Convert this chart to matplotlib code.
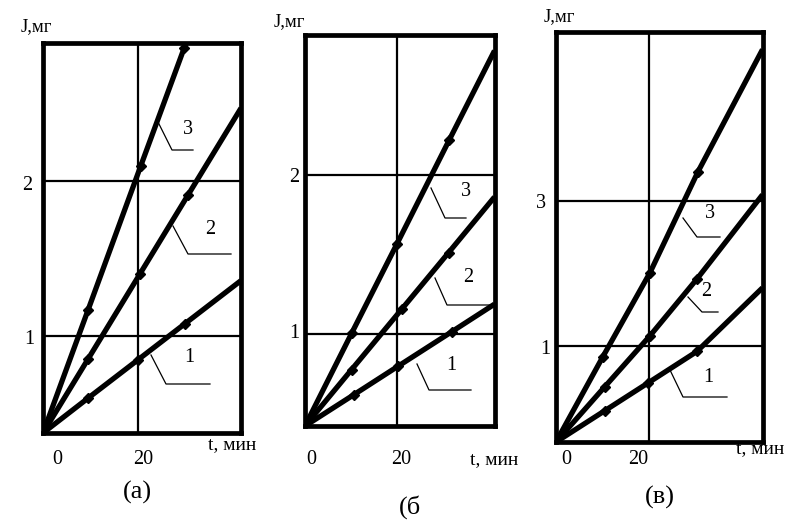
import matplotlib
matplotlib.use("Agg")
import matplotlib.pyplot as plt
from matplotlib import transforms

W, H = 792, 528
plt.rcParams['font.family'] = ['Liberation Serif', 'DejaVu Serif']

# ---------------- data ----------------
# panel (а)
a_xlim = (0, 41.7)
a_ylim = (0.377, 2.887)
a_t3 = [0, 9.47, 20.6, 29.7, 30.1]
a_J3 = [0.377, 1.167, 2.097, 2.852, 2.887]
a_t2 = [0, 9.47, 20.36, 30.53, 41.7]
a_J2 = [0.377, 0.852, 1.398, 1.908, 2.468]
a_t1 = [0, 9.47, 20.0, 29.83, 41.7]
a_J1 = [0.377, 0.601, 0.848, 1.079, 1.358]
a_yticks = [1, 2]
a_yticklabels = ["1", "2"]

# panel (б)
b_xlim = (0, 41.0)
b_ylim = (0.421, 2.885)
b_t3 = [0, 10.1, 19.9, 31.2, 41.0]
b_J3 = [0.421, 1.006, 1.569, 2.223, 2.786]
b_t2 = [0, 10.1, 20.95, 31.05, 41.0]
b_J2 = [0.421, 0.777, 1.158, 1.513, 1.864]
b_t1 = [0, 10.5, 20.2, 31.8, 41.0]
b_J1 = [0.421, 0.617, 0.799, 1.016, 1.189]
b_yticks = [1, 2]
b_yticklabels = ["1", "2"]

# panel (в)
c_xlim = (0, 44.2)
c_ylim = (-0.313, 5.316)
c_t3 = [0, 10.05, 20.1, 30.4, 44.2]
c_J3 = [-0.313, 0.860, 2.010, 3.399, 5.076]
c_t2 = [0, 10.4, 20.1, 30.2, 44.2]
c_J2 = [-0.313, 0.443, 1.144, 1.928, 3.082]
c_t1 = [0, 10.5, 19.7, 30.16, 44.2]
c_J1 = [-0.313, 0.119, 0.498, 0.930, 1.804]
c_yticks = [1, 3]
c_yticklabels = ["1", "3"]

xticks = [0, 20]
xticklabels = ["0", "20"]
curve_labels = ["1", "2", "3"]
panel_labels = ["(а)", "(б", "(в)"]
x_title = "t, мин"
y_title = "J,мг"

# ---------------- layout (pixels, from top-left) ----------------
fig = plt.figure(figsize=(W / 100, H / 100), dpi=100)
PX = transforms.Affine2D().scale(1 / W, -1 / H).translate(0, 1) + fig.transFigure

boxes = [(43, 241, 43, 433), (305, 494.5, 35, 426), (556, 762.5, 32, 442)]

panels = [
    dict(xlim=a_xlim, ylim=a_ylim, series=[(a_t1, a_J1), (a_t2, a_J2), (a_t3, a_J3)],
         yticks=a_yticks, yticklabels=a_yticklabels),
    dict(xlim=b_xlim, ylim=b_ylim, series=[(b_t1, b_J1), (b_t2, b_J2), (b_t3, b_J3)],
         yticks=b_yticks, yticklabels=b_yticklabels),
    dict(xlim=c_xlim, ylim=c_ylim, series=[(c_t1, c_J1), (c_t2, c_J2), (c_t3, c_J3)],
         yticks=c_yticks, yticklabels=c_yticklabels),
]

# text positions (pixels)
xtick_pos = [[(57, 459), (143, 459)], [(311, 460), (401, 460)], [(566, 460), (638, 460)]]
ytick_pos = [[(29, 339), (27, 185)], [(294, 334), (294, 177)], [(545, 349), (541, 204)]]
xtitle_pos = [(232, 445), (494, 460), (760, 449)]
ytitle_pos = [(36, 27), (289, 22), (559, 17)]
panel_pos = [(137, 492), (410, 507), (660, 497)]

# leader lines: (start, knee, end) and label position, order: 1, 2, 3
leaders = [
    [((151, 355), (166, 384), (210, 384)), ((173, 226), (188, 254), (231, 254)),
     ((157, 120), (172, 150), (193, 150))],
    [((417, 364), (429, 390), (471, 390)), ((435, 278), (447, 305), (493, 305)),
     ((431, 188), (445, 218), (466, 218))],
    [((670, 370), (683, 397), (727, 397)), ((688, 297), (702, 312), (718, 312)),
     ((683, 218), (697, 237), (720, 237))],
]
leader_text = [
    [(189, 358), (210, 229), (188, 129)],
    [(451, 365), (468, 277), (466, 191)],
    [(708, 377), (706, 292), (710, 213)],
]

for i, (p, (l, r, t, b)) in enumerate(zip(panels, boxes)):
    ax = fig.add_axes([l / W, 1 - b / H, (r - l) / W, (b - t) / H])
    ax.set_xlim(*p["xlim"])
    ax.set_ylim(*p["ylim"])
    ax.set_xticks([])
    ax.set_yticks([])
    for s in ax.spines.values():
        s.set_linewidth(3.4)
        s.set_color("black")
    # grid
    ax.axvline(xticks[1], color="black", lw=1.6, zorder=1)
    for yv in p["yticks"]:
        ax.axhline(yv, color="black", lw=1.6, zorder=1)
    # curves
    for tt, jj in p["series"]:
        ax.plot(tt, jj, color="black", lw=3.8, solid_capstyle="butt",
                marker="D", markersize=5.5, markevery=[1, 2, 3],
                markerfacecolor="black", markeredgecolor="black",
                clip_on=True, zorder=3)
    # tick labels
    for lab, (x, y) in zip(xticklabels, xtick_pos[i]):
        fig.text(x, y, lab, transform=PX, ha="center", va="center", fontsize=14.5)
    for lab, (x, y) in zip(p["yticklabels"], ytick_pos[i]):
        fig.text(x, y, lab, transform=PX, ha="center", va="center", fontsize=14.5)
    fig.text(*xtitle_pos[i], x_title, transform=PX, ha="center", va="center", fontsize=14)
    fig.text(*ytitle_pos[i], y_title, transform=PX, ha="center", va="center", fontsize=13.5)
    fig.text(*panel_pos[i], panel_labels[i], transform=PX, ha="center", va="center", fontsize=19)
    # leaders
    for k, pts in enumerate(leaders[i]):
        xs = [q[0] for q in pts]
        ys = [q[1] for q in pts]
        fig.add_artist(plt.Line2D(xs, ys, transform=PX, color="black", lw=0.9))
        fig.text(*leader_text[i][k], curve_labels[k], transform=PX,
                 ha="center", va="center", fontsize=14.5)

fig.savefig("out.png", dpi=100)
